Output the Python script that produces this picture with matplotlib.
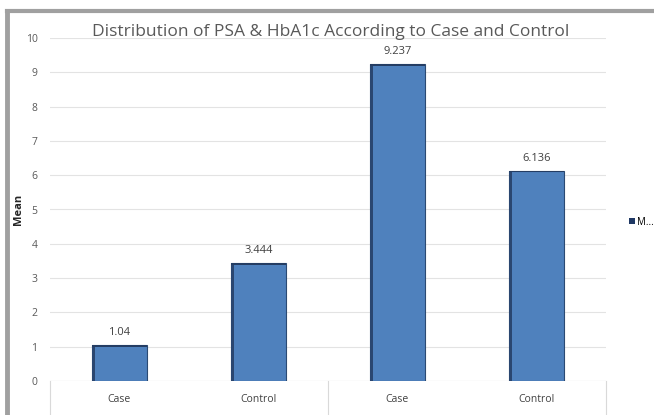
import matplotlib
matplotlib.use("Agg")
import matplotlib.pyplot as plt
from matplotlib.patches import Rectangle, Patch
from matplotlib.lines import Line2D

# data
categories = ["Case", "Control", "Case", "Control"]
means = [1.04, 3.444, 9.237, 6.136]
value_labels = ["1.04", "3.444", "9.237", "6.136"]
yticks = list(range(0, 11))

plt.rcParams['font.family'] = ['Open Sans', 'DejaVu Sans']

fig = plt.figure(figsize=(6.54, 4.15), dpi=100)
fig.patch.set_facecolor("white")
ax = fig.add_axes([50/654, 34/415, 556/654, 343/415])

x = list(range(len(categories)))
bars = ax.bar(x, means, width=0.4, color="#4F81BD", edgecolor="#2b4a73",
              linewidth=0.8, zorder=3)

# darker shading on the left / top edge of each bar (bevel look)
for p in bars.patches:
    ax.add_patch(Rectangle((p.get_x(), 0), p.get_width() * 0.06, p.get_height(),
                           facecolor="#2a4670", edgecolor="none", zorder=4))
    ax.add_patch(Rectangle((p.get_x(), p.get_height() - 0.05), p.get_width(), 0.05,
                           facecolor="#243d63", edgecolor="none", zorder=4))

ax.bar_label(bars, labels=value_labels, padding=5, fontsize=8, color="#404040")

ax.set_xlim(-0.5, len(categories) - 0.5)
ax.set_ylim(0, 10)
ax.set_yticks(yticks)
ax.set_xticks(x)
ax.set_xticklabels(categories, fontsize=7.5, color="#404040")
ax.tick_params(axis="y", length=0, labelsize=7.5, labelcolor="#595959", pad=9)
ax.tick_params(axis="x", length=0, pad=9)
ax.grid(axis="y", color="#e3e3e3", linewidth=0.8, zorder=0)
for s in ax.spines.values():
    s.set_visible(False)
ax.axhline(0, color="#d9d9d9", linewidth=0.8, zorder=2)

# category box separators below the axis
trans = ax.get_xaxis_transform()
for xv in (-0.5, 1.5, 3.5):
    ax.plot([xv, xv], [0, -0.12], transform=trans, color="#d9d9d9",
            linewidth=0.8, clip_on=False)

ax.set_ylabel("Mean", fontsize=8, fontweight="bold", color="#262626")
ax.yaxis.set_label_coords(-(50 - 24) / 556, 0.5)

fig.text(331/654, 1 - 32/415, "Distribution of PSA & HbA1c According to Case and Control",
         ha="center", va="center", fontsize=12.5, color="#595959")

fig.legend(handles=[Patch(facecolor="#1f3864", edgecolor="none")], labels=["M..."],
           loc="center left", bbox_to_anchor=(620/654, 1 - 222/415), frameon=False,
           fontsize=7, handlelength=0.6, handleheight=0.6, handletextpad=0.3)

# grey screenshot frame
fig.add_artist(Line2D([7/654, 7/654], [0, 1 - 11/415], color="#a0a0a0", linewidth=3.5))
fig.add_artist(Line2D([7/654, 1], [1 - 11/415, 1 - 11/415], color="#a0a0a0", linewidth=3))

fig.savefig("out.png", dpi=100)
